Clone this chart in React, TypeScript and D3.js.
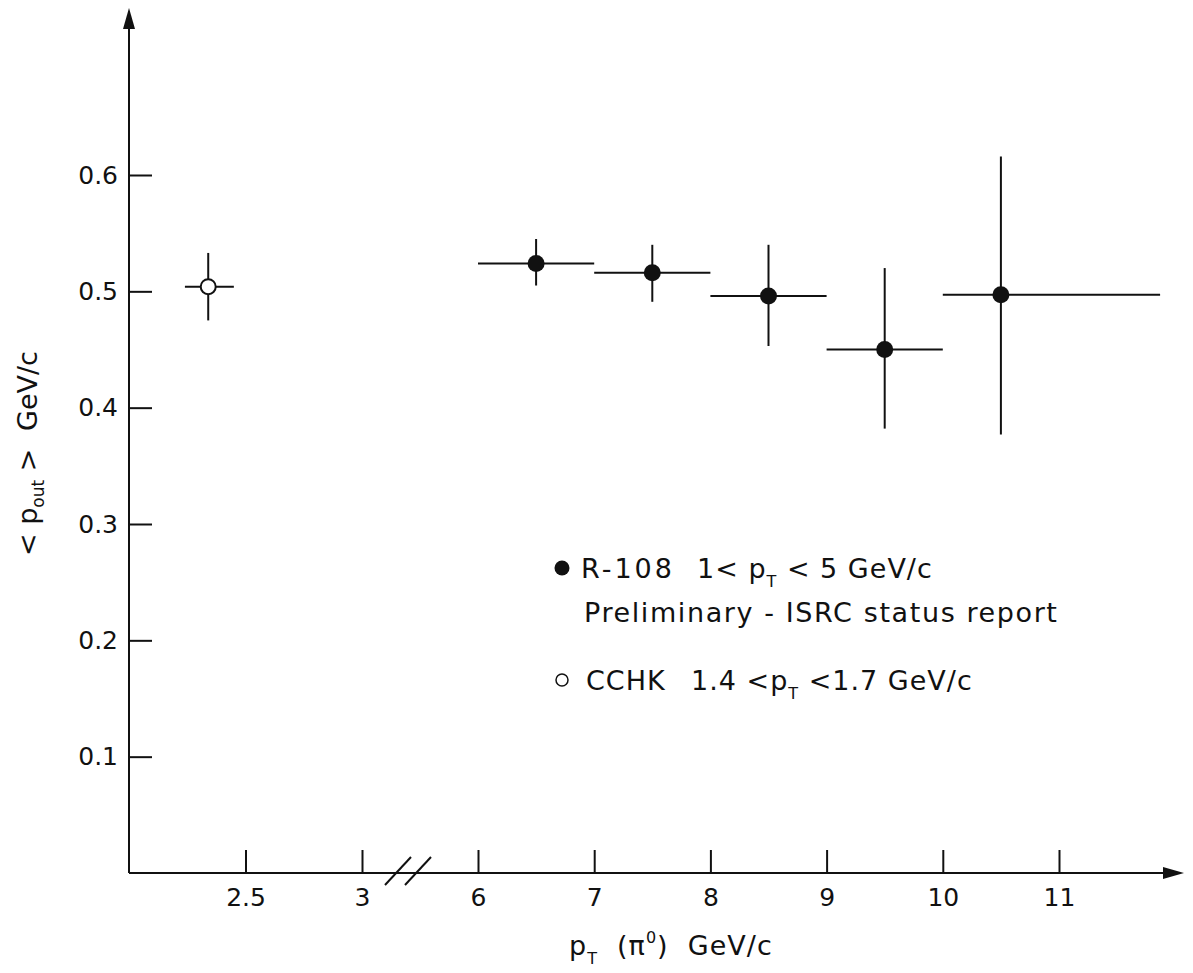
import React, { useEffect, useRef } from "react";
import * as d3 from "d3";

const W = 1193;
const H = 973;
const FONT = "'DejaVu Sans', 'Liberation Sans', sans-serif";
const INK = "#111";
const NB = "\u00a0";

// R-108 (pi0 trigger), <p_out> per p_T bin
const r108Pt = [6.5, 7.5, 8.5, 9.5, 10.5];
const r108PtLow = [6, 7, 8, 9, 10];
const r108PtHigh = [7, 8, 9, 10, 11.87];
const r108Pout = [0.524, 0.516, 0.496, 0.45, 0.497];
const r108PoutLow = [0.505, 0.491, 0.453, 0.382, 0.377];
const r108PoutHigh = [0.545, 0.54, 0.54, 0.52, 0.616];

// CCHK reference point
const cchkPt = [2.34];
const cchkPtLow = [2.24];
const cchkPtHigh = [2.45];
const cchkPout = [0.504];
const cchkPoutLow = [0.475];
const cchkPoutHigh = [0.533];

// axis ticks (the p_T axis is broken between 3 and 6)
const yTicks = [0.1, 0.2, 0.3, 0.4, 0.5, 0.6];
const xTicksLow = [2.5, 3];
const xTicksHigh = [6, 7, 8, 9, 10, 11];

const yScale = d3.scaleLinear().domain([0, 0.6]).range([873, 175]);
const xLow = d3.scaleLinear().domain([2, 3]).range([129, 362]);
const xHigh = d3.scaleLinear().domain([6, 11]).range([478, 1059]);

const X0 = xLow(2);
const Y0 = yScale(0);

function styleAxis(g: any) {
  g.select(".domain").remove();
  g.selectAll(".tick line").attr("stroke", INK).attr("stroke-width", 2);
  g.selectAll(".tick text")
    .attr("fill", INK)
    .attr("font-size", 25)
    .attr("font-family", FONT);
}

export default function App() {
  const yAxisRef = useRef<SVGGElement>(null);
  const xLowRef = useRef<SVGGElement>(null);
  const xHighRef = useRef<SVGGElement>(null);

  useEffect(() => {
    const gy = d3.select(yAxisRef.current as SVGGElement);
    gy.call(
      d3
        .axisLeft(yScale)
        .tickValues(yTicks)
        .tickFormat(d3.format(".1f") as any)
        .tickSizeInner(-23)
        .tickSizeOuter(0)
        .tickPadding(11)
    );
    styleAxis(gy);

    const gxl = d3.select(xLowRef.current as SVGGElement);
    gxl.call(
      d3
        .axisBottom(xLow)
        .tickValues(xTicksLow)
        .tickFormat(d3.format("~g") as any)
        .tickSizeInner(-23)
        .tickSizeOuter(0)
        .tickPadding(15)
    );
    styleAxis(gxl);

    const gxh = d3.select(xHighRef.current as SVGGElement);
    gxh.call(
      d3
        .axisBottom(xHigh)
        .tickValues(xTicksHigh)
        .tickFormat(d3.format("~g") as any)
        .tickSizeInner(-23)
        .tickSizeOuter(0)
        .tickPadding(15)
    );
    styleAxis(gxh);
  }, []);

  const breakX = xLow(3);

  return (
    <svg
      width={W}
      height={H}
      style={{ position: "absolute", left: 0, top: 0, background: "#fff" }}
      fontFamily={FONT}
    >
      <rect width={W} height={H} fill="#fff" />

      {/* axes with arrow heads */}
      <line x1={X0} y1={Y0} x2={X0} y2={26} stroke={INK} strokeWidth={2} />
      <path d={`M${X0},8 L${X0 - 6},29 L${X0 + 6},29 Z`} fill={INK} />
      <line x1={X0} y1={Y0} x2={1166} y2={Y0} stroke={INK} strokeWidth={2} />
      <path d={`M1184,${Y0} L1163,${Y0 - 6} L1163,${Y0 + 6} Z`} fill={INK} />

      {/* axis break marks */}
      {[36, 56].map((dx) => (
        <line
          key={dx}
          x1={breakX + dx - 13}
          y1={Y0 + 12}
          x2={breakX + dx + 13}
          y2={Y0 - 16}
          stroke={INK}
          strokeWidth={2}
        />
      ))}

      <g ref={yAxisRef} transform={`translate(${X0},0)`} />
      <g ref={xLowRef} transform={`translate(0,${Y0})`} />
      <g ref={xHighRef} transform={`translate(0,${Y0})`} />

      {/* CCHK point */}
      {cchkPt.map((x, i) => (
        <g key={`c${i}`} stroke={INK} strokeWidth={2}>
          <line x1={xLow(cchkPtLow[i])} x2={xLow(cchkPtHigh[i])} y1={yScale(cchkPout[i])} y2={yScale(cchkPout[i])} />
          <line x1={xLow(x)} x2={xLow(x)} y1={yScale(cchkPoutLow[i])} y2={yScale(cchkPoutHigh[i])} />
          <circle cx={xLow(x)} cy={yScale(cchkPout[i])} r={7.5} fill="#fff" />
        </g>
      ))}

      {/* R-108 points */}
      {r108Pt.map((x, i) => (
        <g key={`r${i}`} stroke={INK} strokeWidth={2}>
          <line x1={xHigh(r108PtLow[i])} x2={xHigh(r108PtHigh[i])} y1={yScale(r108Pout[i])} y2={yScale(r108Pout[i])} />
          <line x1={xHigh(x)} x2={xHigh(x)} y1={yScale(r108PoutLow[i])} y2={yScale(r108PoutHigh[i])} />
          <circle cx={xHigh(x)} cy={yScale(r108Pout[i])} r={8.5} fill={INK} stroke="none" />
        </g>
      ))}

      {/* legend */}
      <g fill={INK} fontSize={27} letterSpacing={1}>
        <circle cx={562} cy={568} r={7.5} fill={INK} />
        <text x={581} y={578} letterSpacing={3}>R-108</text>
        <text x={697} y={578}>
          1&lt; p<tspan fontSize={16} dy={9}>T</tspan>
          <tspan dy={-9}> &lt; 5 GeV/c</tspan>
        </text>
        <text x={584} y={622} letterSpacing={1.6}>Preliminary - ISRC status report</text>
        <circle cx={562} cy={680} r={6} fill="#fff" stroke={INK} strokeWidth={1.5} />
        <text x={586} y={690}>CCHK</text>
        <text x={691} y={690}>
          1.4 &lt;p<tspan fontSize={16} dy={9}>T</tspan>
          <tspan dy={-9}> &lt;1.7 GeV/c</tspan>
        </text>
      </g>

      {/* x axis title */}
      <text x={569} y={955} fontSize={27} fill={INK} letterSpacing={1}>
        p<tspan fontSize={16} dy={9}>T</tspan>
        <tspan dy={-9}>{`${NB}${NB}(\u03c0`}</tspan>
        <tspan fontSize={16} dy={-12}>0</tspan>
        <tspan dy={12}>{`)${NB}${NB}GeV/c`}</tspan>
      </text>

      {/* y axis title */}
      <text transform="translate(37,556) rotate(-90)" fontSize={27} fill={INK}>
        {"< p"}
        <tspan fontSize={17} dy={7}>out</tspan>
        <tspan dy={-7}>{" >"}</tspan>
      </text>
      <text transform="translate(37,431) rotate(-90)" fontSize={27} fill={INK}>
        GeV/c
      </text>
    </svg>
  );
}
